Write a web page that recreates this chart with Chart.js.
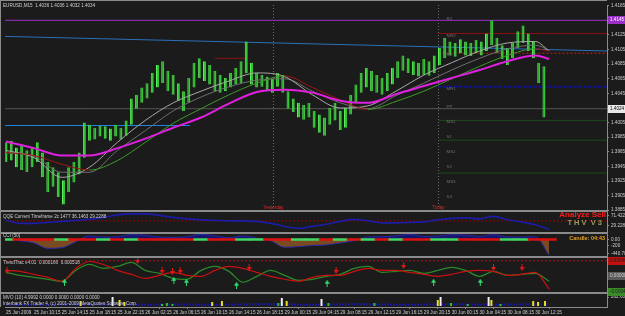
<!DOCTYPE html>
<html>
<head>
<meta charset="utf-8">
<script src="https://cdn.jsdelivr.net/npm/chart.js@4.4.1/dist/chart.umd.min.js"></script>
<style>
  html, body { margin: 0; padding: 0; background: #1b1b1b; overflow: hidden; }
</style>
</head>
<body>
<canvas id="chart" width="625" height="316"></canvas>
<script>
// time axis: hours after 25 Jun 06:15, one label every 4 h
const timeLabels = ['25 Jun 2009', '25 Jun 10:15', '25 Jun 14:15', '25 Jun 18:15', '25 Jun 22:15',
    '26 Jun 02:15', '26 Jun 06:15', '26 Jun 10:15', '26 Jun 14:15', '26 Jun 18:15',
    '29 Jun 00:15', '29 Jun 04:15', '29 Jun 08:15', '29 Jun 12:15', '29 Jun 16:15',
    '29 Jun 20:15', '30 Jun 00:15', '30 Jun 04:15', '30 Jun 08:15', '30 Jun 12:15'];
const labelHours = [0, 4, 8, 12, 16, 20, 24, 28, 32, 36, 40, 44, 48, 52, 56, 60, 64, 68, 72, 76];
const priceTicks = [1.3885, 1.3905, 1.3925, 1.3945, 1.3965, 1.3985, 1.4005, 1.4025,
    1.4045, 1.4065, 1.4085, 1.4105, 1.4125, 1.4145, 1.4165];

// price bars (one every 45 min)
const barStep = 0.75;
const candleHigh = [1.3978, 1.3980, 1.3971, 1.3975, 1.3967, 1.3971, 1.3978, 1.3964, 1.3951, 1.3944,
    1.3937, 1.3926, 1.3944, 1.3951, 1.3964, 1.4005, 1.4002, 1.3998, 1.4001, 1.4000,
    1.3997, 1.4002, 1.3998, 1.4008, 1.4038, 1.4043, 1.4053, 1.4059, 1.4073, 1.4084,
    1.4089, 1.4076, 1.4070, 1.4059, 1.4048, 1.4066, 1.4087, 1.4093, 1.4089, 1.4084,
    1.4076, 1.4070, 1.4066, 1.4073, 1.4080, 1.4089, 1.4116, 1.4087, 1.4073, 1.4070,
    1.4068, 1.4065, 1.4073, 1.4070, 1.4048, 1.4038, 1.4032, 1.4029, 1.4032, 1.4021,
    1.4016, 1.4012, 1.4025, 1.4032, 1.4021, 1.4025, 1.4043, 1.4057, 1.4073, 1.4080,
    1.4076, 1.4070, 1.4066, 1.4073, 1.4080, 1.4089, 1.4097, 1.4093, 1.4089, 1.4087,
    1.4092, 1.4089, 1.4097, 1.4107, 1.4121, 1.4116, 1.4114, 1.4119, 1.4116, 1.4114,
    1.4118, 1.4116, 1.4127, 1.4145, 1.4121, 1.4111, 1.4107, 1.4114, 1.4130, 1.4138,
    1.4127, 1.4116, 1.4087, 1.4082];
const candleLow = [1.3951, 1.3953, 1.3944, 1.3940, 1.3937, 1.3944, 1.3951, 1.3930, 1.3910, 1.3917,
    1.3903, 1.3893, 1.3910, 1.3923, 1.3934, 1.3957, 1.3980, 1.3982, 1.3986, 1.3983,
    1.3980, 1.3986, 1.3982, 1.3987, 1.4002, 1.4024, 1.4032, 1.4038, 1.4046, 1.4053,
    1.4059, 1.4048, 1.4043, 1.4035, 1.4021, 1.4032, 1.4053, 1.4066, 1.4062, 1.4057,
    1.4048, 1.4046, 1.4048, 1.4053, 1.4057, 1.4059, 1.4073, 1.4057, 1.4053, 1.4054,
    1.4048, 1.4046, 1.4054, 1.4046, 1.4024, 1.4019, 1.4012, 1.4009, 1.4012, 1.3998,
    1.3991, 1.3987, 1.4002, 1.4008, 1.3995, 1.3998, 1.4016, 1.4032, 1.4046, 1.4053,
    1.4048, 1.4046, 1.4043, 1.4048, 1.4057, 1.4066, 1.4076, 1.4073, 1.4070, 1.4068,
    1.4070, 1.4069, 1.4073, 1.4084, 1.4093, 1.4097, 1.4095, 1.4100, 1.4097, 1.4096,
    1.4100, 1.4097, 1.4103, 1.4111, 1.4100, 1.4092, 1.4084, 1.4093, 1.4107, 1.4114,
    1.4103, 1.4093, 1.4059, 1.4012];

// moving averages, read every 4 h
const maHours = [0, 4, 8, 12, 16, 20, 24, 28, 32, 36, 40, 44, 48, 52, 56, 60, 64, 68, 72, 76, 78];
const maMagenta = [1.3979, 1.3970, 1.3960, 1.3960, 1.3970, 1.3983, 1.3998, 1.4012, 1.4031, 1.4047,
    1.4050, 1.4046, 1.4035, 1.4032, 1.4044, 1.4055, 1.4066, 1.4077, 1.4089, 1.4097, 1.4092];
const maSlow = [1.3964, 1.3960, 1.3948, 1.3940, 1.3953, 1.3978, 1.4004, 1.4024, 1.4043, 1.4059,
    1.4069, 1.4053, 1.4036, 1.4023, 1.4034, 1.4048, 1.4065, 1.4082, 1.4097, 1.4106, 1.4103];
const maFast = [1.3967, 1.3957, 1.3930, 1.3944, 1.3978, 1.4008, 1.4032, 1.4048, 1.4062, 1.4073,
    1.4068, 1.4043, 1.4025, 1.4028, 1.4048, 1.4070, 1.4087, 1.4103, 1.4114, 1.4116, 1.4103];
const maMid = [1.3964, 1.3959, 1.3937, 1.3937, 1.3967, 1.3994, 1.4021, 1.4040, 1.4054, 1.4063,
    1.4065, 1.4048, 1.4032, 1.4024, 1.4042, 1.4059, 1.4077, 1.4093, 1.4106, 1.4111, 1.4104];

// horizontal levels: price, from hour, to hour
const levelPrices = [1.4145, 1.4024, 1.4001, 1.4127, 1.4100, 1.4054, 1.4093, 1.4008, 1.3981, 1.3936];
const levelFrom = [-0.15, -0.15, -0.15, 62.1, 62.1, 62.1, 30.0, 62.1, 62.1, 62.1];
const levelTo = [86.3, 86.3, 26.4, 86.3, 86.3, 86.3, 34.4, 86.3, 86.3, 86.3];
const trendHours = [-0.15, 86.3];
const trendPrices = [1.4123, 1.4103];

const sessionLabels = ['Yesterday', 'Today'];
const sessionHours = [38.4, 62.1];
const pivotNames = ['R2', 'MR2', 'R1', 'MR1', 'PP', 'MS1', 'S1', 'MS2', 'S2', 'MS3', 'S3'];
const pivotPrices = [1.4146, 1.4123, 1.4097, 1.4050, 1.4025, 1.4005, 1.3985, 1.3964, 1.3944, 1.3923, 1.3902];

// indicators, read every 2 h
const indHours = [0, 2, 4, 6, 8, 10, 12, 14, 16, 18, 20, 22, 24, 26, 28, 30, 32, 34, 36, 38,
    40, 42, 44, 46, 48, 50, 52, 54, 56, 58, 60, 62, 64, 66, 68, 70, 72, 74, 76, 78];
const qqe = [52.4, 39.7, 39.7, 43.9, 48.1, 52.4, 56.6, 65, 75.6, 79.8,
    79.8, 73.4, 65, 58.7, 54.5, 52.4, 50.2, 50.2, 48.1, 39.7,
    27, 18.6, 27, 35.5, 48.1, 56.6, 50.2, 41.8, 41.8, 43.9,
    46, 54.5, 60.8, 62.9, 58.7, 69.2, 54.5, 46, 33.4, 14.4];
const cci = [20, -40, -110, -280, -260, -75, 110, 75, 85, 150,
    130, 75, 65, 85, 160, 110, 55, 110, 40, -40,
    -245, -225, -190, -170, -110, -40, 75, 85, 110, 160,
    95, 105, 150, 140, 95, 150, 75, 75, 85, -500];
const cciTrend = 'GRRRGRRGRGRRRRGRRGGRRGGRGRGRGRRGGRRRGGRR'.split('');
const ttGreen = [0.000118, 0.000029, -0.000029, -0.000088, -0.000147, 0.000176, 0.000353, 0.000235, 0.000294, 0.000412,
    0.000176, 0.000088, -0.000059, -0.000088, 0.000176, 0.000294, 0.000147, -0.000176, 0, 0.000176,
    0.000029, -0.000118, -0.000088, 0, 0.000059, 0.000235, 0.000294, 0.000118, 0.000147, 0.000176,
    0.000088, 0.000176, 0.000265, 0.000176, 0, 0.000147, 0.000029, 0.000059, 0.000088, -0.000147];
const ttRed = [0.000176, 0.000147, 0.000059, -0.000029, -0.000147, 0.000235, 0.000441, 0.000353, 0.000176, 0.000059,
    -0.000059, 0.000029, 0.000118, 0.000029, 0, 0.000176, 0.000294, 0.000235, 0.000118, 0,
    -0.000088, -0.000147, -0.000029, 0.000029, 0.000029, 0.000147, 0.000235, 0.000176, 0.000176, 0.000118,
    0.000059, 0, 0.000059, 0.000147, 0.000176, 0.000147, 0.000029, 0.000059, 0.000118, -0.000382];
const sellHours = [0.14, 18.9, 22.4, 23.9, 25, 34.9, 47.4, 57.1, 70, 74.1];
const sellVals = [0.000176, 0.00047, 0.000176, 0.000147, 0.000176, 0.000265, 0.000176, 0.000323, 0.000265, 0.000265];
const buyHours = [8.4, 24.1, 25.9, 33.1, 46.1, 61.4, 68.1];
const buyVals = [-0.000176, -0.000118, -0.000176, -0.000265, -0.000206, -0.000176, -0.000176];
const volHours = [10.7, 15.3, 16.3, 17.0, 22.4, 23.1, 23.9, 29.6, 31.0, 39.1, 39.6, 40.3, 45.3,
    46.3, 52.9, 62.0, 62.4, 63.9, 66.3, 69.3, 69.7, 71.0, 75.7, 76.4, 77.4];
const volVals = [146, 263, 175, 117, 58, 88, 58, 117, 146, 88, 234, 146, 204,
    88, 88, 175, 263, 88, 58, 263, 175, 58, 146, 117, 146];
const mvoLine = [44, 40, 35, 38, 45, 50, 48, 55, 50, 45, 40, 42, 46, 44, 40, 38, 42, 47, 52, 50,
    45, 40, 38, 42, 46, 50, 48, 44, 40, 38, 42, 46, 50, 48, 44, 40, 44, 48, 52, 50];

// ---- helpers ----
const pts = (xs, ys) => xs.map((x, i) => ({ x: x, y: ys[i] }));
const FONT = '"Liberation Sans", Arial, sans-serif';
const SMALL = '4.6px ' + FONT;
const AXIS = '#8a8a8a';
const TXT = '#cfcfcf';

function arrowIcon(color, down) {
    const c = document.createElement('canvas');
    c.width = 5; c.height = 7;
    const g = c.getContext('2d');
    g.fillStyle = color;
    g.beginPath();
    if (down) {
        g.fillRect(2, 0, 1, 4);
        g.moveTo(0, 3); g.lineTo(5, 3); g.lineTo(2.5, 7);
    } else {
        g.fillRect(2, 3, 1, 4);
        g.moveTo(0, 4); g.lineTo(5, 4); g.lineTo(2.5, 0);
    }
    g.fill();
    return c;
}

function paneAxis(weight, min, max, ticks, fmt) {
    return {
        position: 'right', stack: 'panes', stackWeight: weight, stacked: false,
        min: min, max: max,
        grid: { display: true, drawOnChartArea: false, tickLength: 2, color: AXIS },
        border: { display: true, color: AXIS },
        afterBuildTicks: s => { s.ticks = ticks.map(v => ({ value: v })); },
        afterFit: s => { s.width = 18; },
        ticks: { autoSkip: false, padding: 2, color: TXT, font: { size: 4.6, family: FONT }, callback: fmt }
    };
}

function lineSet(axis, data, color, width, extra) {
    return Object.assign({
        type: 'line', yAxisID: axis, data: data, borderColor: color, borderWidth: width,
        pointRadius: 0, fill: false, tension: 0.4, cubicInterpolationMode: 'monotone'
    }, extra || {});
}

// ---- datasets ----
const levelStyles = [
    { c: '#9a30c8', w: 1 }, { c: '#555555', w: 1 }, { c: '#1e82e0', w: 1 },
    { c: '#8b1010', w: 1 }, { c: '#c02020', w: 1, d: [2, 2] }, { c: '#1010a8', w: 2, d: [3, 2] },
    { c: '#8b1010', w: 1 }, { c: '#1e4a1e', w: 1 }, { c: '#1e4a1e', w: 1 }, { c: '#1e4a1e', w: 1 }
];
const levelSets = levelPrices.map((p, i) => lineSet('yPrice',
    [{ x: levelFrom[i], y: p }, { x: levelTo[i], y: p }],
    levelStyles[i].c, levelStyles[i].w, { tension: 0, borderDash: levelStyles[i].d || [] }));

const datasets = [
    // price pane
    lineSet('yPrice', pts(maHours, maMagenta), '#e020e0', 2),
    lineSet('yPrice', pts(maHours, maSlow), '#3c9a28', 1, {
        segment: { borderColor: c => c.p1.parsed.y >= c.p0.parsed.y ? '#3c9a28' : '#a01414' }
    }),
    lineSet('yPrice', pts(maHours, maFast), '#a8a8a8', 1),
    lineSet('yPrice', pts(maHours, maMid), '#6e6e6e', 1),
    {
        type: 'bar', yAxisID: 'yPrice', grouped: false, barThickness: 3, inflateAmount: 0,
        data: candleHigh.map((h, i) => ({ x: i * barStep, y: [candleLow[i], h] })),
        backgroundColor: '#34c434', borderColor: '#5cf05c', borderWidth: { left: 1, right: 0, top: 0, bottom: 0 }
    },
    lineSet('yPrice', pts(trendHours, trendPrices), '#2a70b8', 1, { tension: 0 }),
    ...levelSets,
    // QQE pane
    lineSet('yQqe', pts(indHours, qqe), '#1c1ca8', 1.6),
    lineSet('yQqe', [{ x: -0.15, y: 50 }, { x: 86.3, y: 50 }], '#a00000', 1, { tension: 0, borderDash: [2, 2] }),
    // CCI pane
    {
        type: 'bar', yAxisID: 'yCci', grouped: false, barThickness: 15, inflateAmount: 0,
        data: indHours.map(h => ({ x: h, y: [-40, 40] })),
        backgroundColor: c => cciTrend[c.dataIndex] === 'G' ? '#40d860' : '#dd1010', borderWidth: 0
    },
    lineSet('yCci', pts(indHours, cci), '#2828a8', 1, {
        fill: { target: { value: 0 }, above: '#16166e', below: '#7a4a22' }
    }),
    // TrendTrac pane
    {
        type: 'line', yAxisID: 'yTt', showLine: false, data: pts(sellHours, sellVals),
        pointStyle: arrowIcon('#e01818', true), pointRadius: 3
    },
    {
        type: 'line', yAxisID: 'yTt', showLine: false, data: pts(buyHours, buyVals),
        pointStyle: arrowIcon('#30e070', false), pointRadius: 3
    },
    lineSet('yTt', pts(indHours, ttRed), '#cc1010', 1.2),
    lineSet('yTt', pts(indHours, ttGreen), '#2a8a2a', 1.2),
    lineSet('yTt', [{ x: -0.15, y: 0.000462 }, { x: 86.3, y: 0.000462 }], '#b01010', 1, { tension: 0, borderDash: [2, 2] }),
    // volume pane
    {
        type: 'bar', yAxisID: 'yVol', grouped: false, barThickness: 2, inflateAmount: 0,
        data: pts(volHours, volVals),
        backgroundColor: c => c.parsed.y >= 200 ? '#f0f0f0' : (c.parsed.y >= 110 ? '#e8e020' : '#30c030'),
        borderWidth: 0
    },
    lineSet('yVol', pts(indHours, mvoLine), '#18189a', 2, { borderDash: [2, 1] })
];

// ---- decorations drawn round the library's own scales ----
function txt(ctx, s, x, y, color, font, align) {
    ctx.fillStyle = color;
    ctx.font = font;
    ctx.textAlign = align || 'left';
    ctx.textBaseline = 'top';
    ctx.fillText(s, x, y);
}
function axisBox(ctx, scale, value, label, bg, fg) {
    const y = Math.round(scale.getPixelForValue(value));
    ctx.fillStyle = bg;
    ctx.fillRect(608, y - 4, 17, 8);
    ctx.fillStyle = fg;
    ctx.font = SMALL;
    ctx.textAlign = 'left';
    ctx.textBaseline = 'middle';
    ctx.fillText(label, 610, y);
}

const deco = {
    id: 'deco',
    beforeDraw(chart) {
        const { ctx, width, height } = chart;
        ctx.save();
        ctx.fillStyle = '#1b1b1b';
        ctx.fillRect(0, 0, width, height);
        ctx.restore();
    },
    beforeDatasetsDraw(chart) {
        const { ctx, scales } = chart;
        const p = scales.yPrice, x = scales.x;
        ctx.save();
        ctx.strokeStyle = '#6a6a6a';
        ctx.lineWidth = 1;
        ctx.setLineDash([1, 2]);
        sessionHours.forEach(h => {
            const px = Math.round(x.getPixelForValue(h)) + 0.5;
            ctx.beginPath();
            ctx.moveTo(px, p.top);
            ctx.lineTo(px, p.bottom - 4);
            ctx.stroke();
        });
        ctx.restore();
    },
    afterDatasetsDraw(chart) {
        const { ctx, scales, chartArea } = chart;
        const x = scales.x, p = scales.yPrice;
        ctx.save();
        // pane separators
        ctx.fillStyle = AXIS;
        ['yQqe', 'yCci', 'yTt', 'yVol'].forEach(id => {
            ctx.fillRect(0, Math.round(scales[id].top) - 1, chartArea.right, 2);
        });
        ctx.fillRect(0, 0, 1, chartArea.bottom);
        ctx.fillRect(0, 0, chartArea.right, 1);
        // session names
        sessionLabels.forEach((s, i) => {
            txt(ctx, s, x.getPixelForValue(sessionHours[i]), p.bottom - 6, '#e02828', SMALL, 'center');
        });
        // pivot names
        pivotNames.forEach((s, i) => {
            txt(ctx, s, x.getPixelForValue(sessionHours[1]) + 8, p.getPixelForValue(pivotPrices[i]) - 3,
                '#6e6e6e', '4.4px ' + FONT);
        });
        // pane titles
        txt(ctx, 'EURUSD,M15  1.4036 1.4036 1.4032 1.4034', 3, 3, TXT, SMALL);
        txt(ctx, 'QQE Current Timeframe 2c 1477 36.1463 29.2288', 3, scales.yQqe.top + 3, TXT, SMALL);
        txt(ctx, 'CCI (50)', 3, scales.yCci.top + 1, TXT, SMALL);
        txt(ctx, 'TrendTrac v4.01  0.000166  0.000518', 3, scales.yTt.top + 3, TXT, SMALL);
        txt(ctx, 'MVO (10) 4.9992 0.0000 0.0000 0.0000 0.0000', 3, scales.yVol.top + 2, TXT, SMALL);
        txt(ctx, 'Interbank FX Trader 4, (c) 2001-2009 MetaQuotes Software Corp.', 3, scales.yVol.top + 8, TXT, SMALL);
        // expert labels
        txt(ctx, 'Analyze Sell', 606, scales.yQqe.top, '#ff1c1c', 'bold 8px ' + FONT, 'right');
        txt(ctx, 'T H V  V 3', 602, scales.yQqe.top + 8, '#9c9a5c', 'bold 7.5px ' + FONT, 'right');
        txt(ctx, 'Candle: 04:43', 605, scales.yCci.top + 3, '#e8a020', 'bold 5.5px ' + FONT, 'right');
        ctx.restore();
    },
    afterDraw(chart) {
        const { ctx, scales } = chart;
        ctx.save();
        axisBox(ctx, scales.yPrice, levelPrices[0], '1.4145', '#9a30c8', '#ffffff');
        axisBox(ctx, scales.yPrice, levelPrices[1], '1.4024', '#e8e8e8', '#000000');
        axisBox(ctx, scales.yTt, 0.000462, '0.000462', '#c01010', '#1b1b1b');
        axisBox(ctx, scales.yTt, 0, '0.000000', '#5a5a5a', '#d0d0d0');
        axisBox(ctx, scales.yTt, -0.000462, '-0.000462', '#3a8a2a', '#1b1b1b');
        ctx.restore();
    }
};

new Chart(document.getElementById('chart'), {
    type: 'line',
    data: { datasets: datasets },
    plugins: [deco],
    options: {
        responsive: false,
        animation: false,
        events: [],
        layout: { padding: { left: 2, top: 2, right: 0, bottom: 0 } },
        plugins: { legend: { display: false }, tooltip: { enabled: false } },
        scales: {
            x: {
                type: 'linear', min: -0.15, max: 86.3, offset: false,
                grid: { display: true, drawOnChartArea: false, tickLength: 2, color: AXIS },
                border: { display: true, color: AXIS },
                afterBuildTicks: s => { s.ticks = labelHours.map(v => ({ value: v })); },
                afterFit: s => { s.height = 9; },
                ticks: {
                    autoSkip: false, maxRotation: 0, align: 'start', padding: 1,
                    color: TXT, font: { size: 4.6, family: FONT },
                    callback: (v, i) => timeLabels[i]
                }
            },
            yPrice: paneAxis(208, 1.3884, 1.4166, priceTicks, v => v.toFixed(4)),
            yQqe: paneAxis(22, 0, 92, [71.422, 29.2288], v => v.toFixed(4)),
            yCci: paneAxis(25, -565, 210, [0, -200, -440.7], v => v === 0 ? '0.00' : (v === -440.7 ? '-440.70' : String(v))),
            yTt: paneAxis(36, -0.0005, 0.00056, [], v => v),
            yVol: paneAxis(14, -29, 380, [262.6], () => '262.6020')
        }
    }
});
</script>
</body>
</html>
